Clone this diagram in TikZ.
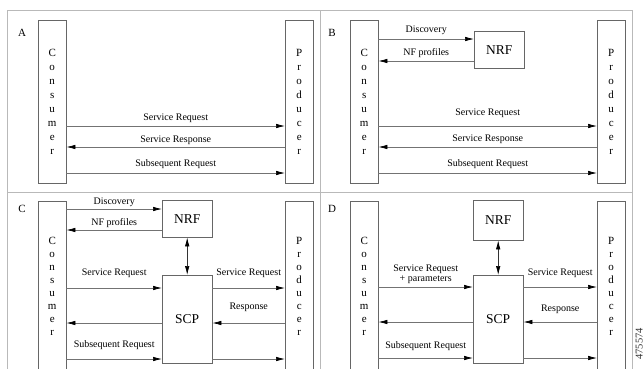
\documentclass[tikz,border=0pt]{standalone}
\usepackage{fontspec}
\setmainfont{Liberation Serif}
\usetikzlibrary{arrows.meta,positioning}

\begin{document}
\begin{tikzpicture}[
    x=1pt, y=-1pt,
    frame/.style={draw=gray!55, line width=0.9pt},
    party/.style={draw=black!60, minimum width=28pt, inner sep=0pt, align=center, font=\fontsize{11}{14}\selectfont},
    fnbox/.style={draw=black!60, minimum width=50pt, inner sep=0pt, font=\fontsize{13.5}{15}\selectfont},
    msg/.style={font=\fontsize{10}{9.5}\selectfont, inner sep=1pt, align=center},
    tag/.style={font=\fontsize{11}{12}\selectfont, inner sep=0pt},
    arrow/.style={-{Latex[length=9pt, width=4.5pt, color=black]}, draw=black!55, line width=0.7pt},
    dblarrow/.style={{Latex[length=9pt, width=4.5pt, color=black]}-{Latex[length=9pt, width=4.5pt, color=black]}, draw=black!80, line width=0.7pt}
]
\useasboundingbox (0,0) rectangle (644,368);

% frame of the four panels
\draw[frame] (7,372) |- (632,10) -- (632,372);
\draw[frame] (320,10) -- (320,372);
\draw[frame] (7,192) -- (632,192);

% A: direct communication
\node[tag] (tagA) at (22,33) {A};
\node[party, minimum height=163pt, anchor=north west] (consA) at (38,20) {C\\o\\n\\s\\u\\m\\e\\r};
\node[party, minimum height=163pt, anchor=north west] (prodA) at (285,20) {P\\r\\o\\d\\u\\c\\e\\r};

\draw[arrow] (consA.east |- 0,126) -- node[msg, above=2.5pt] (reqA) {Service Request} (prodA.west |- 0,126);
\draw[arrow] (prodA.west |- 0,147) -- node[msg, above=1.5pt] (rspA) {Service Response} (consA.east |- 0,147);
\draw[arrow] (consA.east |- 0,173) -- node[msg, above=3.5pt] (subA) {Subsequent Request} (prodA.west |- 0,173);

% B: direct communication with NRF discovery
\node[tag] (tagB) at (332,33) {B};
\node[party, minimum height=163pt, anchor=north west] (consB) at (350,20) {C\\o\\n\\s\\u\\m\\e\\r};
\node[party, minimum height=163pt, anchor=north west] (prodB) at (597,20) {P\\r\\o\\d\\u\\c\\e\\r};
\node[fnbox, minimum height=37pt, anchor=north west] (nrfB) at (474,31) {NRF};

\draw[arrow] (consB.east |- 0,39) -- node[msg, above=2.5pt] (discB) {Discovery} (nrfB.west |- 0,39);
\draw[arrow] (nrfB.west |- 0,61) -- node[msg, above=2.5pt] (profB) {NF profiles} (consB.east |- 0,61);
\draw[arrow] (consB.east |- 0,126) -- node[msg, above=7.5pt] (reqB) {Service Request} (prodB.west |- 0,126);
\draw[arrow] (prodB.west |- 0,147) -- node[msg, above=2.5pt] (rspB) {Service Response} (consB.east |- 0,147);
\draw[arrow] (consB.east |- 0,173) -- node[msg, above=3.5pt] (subB) {Subsequent Request} (prodB.west |- 0,173);

% C: indirect communication via SCP, discovery by consumer
\node[tag] (tagC) at (22,209) {C};
\node[party, minimum height=170pt, anchor=north west, font=\fontsize{11}{13}\selectfont] (consC) at (38,201) {C\\o\\n\\s\\u\\m\\e\\r};
\node[party, minimum height=170pt, anchor=north west, font=\fontsize{11}{13}\selectfont] (prodC) at (285,201) {P\\r\\o\\d\\u\\c\\e\\r};
\node[fnbox, minimum height=37pt, anchor=north west] (nrfC) at (162,200) {NRF};
\node[fnbox, minimum height=88pt, anchor=north west] (scpC) at (162,275) {SCP};

\draw[arrow] (consC.east |- 0,209) -- node[msg, above=1.5pt] (discC) {Discovery} (nrfC.west |- 0,209);
\draw[arrow] (nrfC.west |- 0,230) -- node[msg, above=1.5pt] (profC) {NF profiles} (consC.east |- 0,230);
\draw[dblarrow] (nrfC) -- (scpC);
\draw[arrow] (consC.east |- 0,288) -- node[msg, above=9.5pt] (reqC) {Service Request} (scpC.west |- 0,288);
\draw[arrow] (scpC.west |- 0,323) -- (consC.east |- 0,323);
\draw[arrow] (consC.east |- 0,359) -- node[msg, above=8.5pt] (subC) {Subsequent Request} (scpC.west |- 0,359);
\draw[arrow] (scpC.east |- 0,288) -- node[msg, above=9.5pt] (fwdC) {Service Request} (prodC.west |- 0,288);
\draw[arrow] (prodC.west |- 0,323) -- node[msg, above=10.5pt] (rspC) {Response} (scpC.east |- 0,323);
\draw[arrow] (scpC.east |- 0,359) -- (prodC.west |- 0,359);

% D: indirect communication, discovery delegated to SCP
\node[tag] (tagD) at (332,209) {D};
\node[party, minimum height=170pt, anchor=north west, font=\fontsize{11}{13}\selectfont] (consD) at (350,201) {C\\o\\n\\s\\u\\m\\e\\r};
\node[party, minimum height=170pt, anchor=north west, font=\fontsize{11}{13}\selectfont] (prodD) at (597,201) {P\\r\\o\\d\\u\\c\\e\\r};
\node[fnbox, minimum height=40pt, anchor=north west] (nrfD) at (473,200) {NRF};
\node[fnbox, minimum height=88pt, anchor=north west] (scpD) at (473,275) {SCP};

\draw[dblarrow] (nrfD) -- (scpD);
\draw[arrow] (consD.east |- 0,287) -- node[msg, above=2.5pt] (reqD) {Service Request\\+ parameters} (scpD.west |- 0,287);
\draw[arrow] (scpD.west |- 0,322) -- (consD.east |- 0,322);
\draw[arrow] (consD.east |- 0,358) -- node[msg, above=6.5pt] (subD) {Subsequent Request} (scpD.west |- 0,358);
\draw[arrow] (scpD.east |- 0,287) -- node[msg, above=8.5pt] (fwdD) {Service Request} (prodD.west |- 0,287);
\draw[arrow] (prodD.west |- 0,322) -- node[msg, above=7.5pt] (rspD) {Response} (scpD.east |- 0,322);
\draw[arrow] (scpD.east |- 0,358) -- (prodD.west |- 0,358);

\node[font=\fontsize{10.5}{11}\selectfont, rotate=90, anchor=north east, inner sep=0pt, text=black!80] (figid) at (635.5,328) {475574};
\end{tikzpicture}
\end{document}
